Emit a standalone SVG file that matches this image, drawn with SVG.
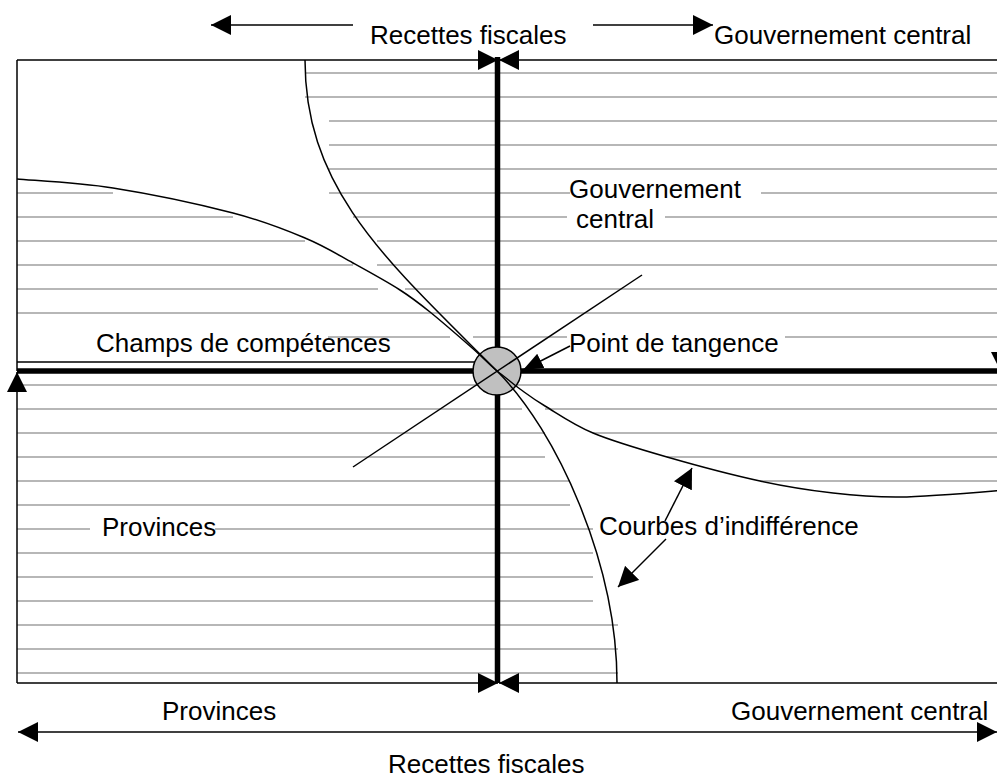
<svg xmlns="http://www.w3.org/2000/svg" width="997" height="780" viewBox="0 0 997 780">
<style>
.t{font-family:"Liberation Sans",Arial,sans-serif;font-size:26px;fill:#000}
.h{stroke:#a0a0a0;stroke-width:1.5;fill:none}
.k{stroke:#000;stroke-width:1.5;fill:none}
.K{stroke:#000;stroke-width:5.5;fill:none}
</style>
<defs>
<marker id="ah" viewBox="0 0 20 20" refX="20" refY="10" markerWidth="20" markerHeight="20" markerUnits="userSpaceOnUse" orient="auto-start-reverse"><path d="M0,0 L20,10 L0,20 z" fill="#000"/></marker>
<marker id="ahs" viewBox="0 0 20 16" refX="20" refY="8" markerWidth="20" markerHeight="16" markerUnits="userSpaceOnUse" orient="auto"><path d="M0,0 L20,8 L0,16 z" fill="#000"/></marker>
</defs>
<rect width="997" height="780" fill="#fff"/>
<g id="hatching" class="h">
<path d="M305,73H1000M305,97H1000M329,121H1000M329,145H1000M329,169H1000
M17,193H113M329,193H570M761,193H1000
M17,217H233M353,217H567M665,217H1000
M17,241H305M377,241H1000
M17,265H353M377,265H1000
M17,289H378M405,289H1000
M17,313H1000
M328,337H450M473,337H567M785,337H1000
M17,385H1000
M17,409H522M545,409H1000
M17,433H545M593,433H1000
M17,457H545M667,457H1000
M17,481H570M760,481H1000
M17,505H570
M17,529H90M215,529H593
M17,553H593M17,577H593M17,601H593
M17,625H618M17,649H618M17,673H618"/>
</g>
<g id="frame" class="k">
<line x1="17" y1="60" x2="498" y2="60" marker-end="url(#ah)"/>
<line x1="1005" y1="60" x2="499" y2="60" marker-end="url(#ah)"/>
<line x1="17" y1="683" x2="498" y2="683" marker-end="url(#ah)"/>
<line x1="1005" y1="683" x2="499" y2="683" marker-end="url(#ah)"/>
<line x1="17" y1="60" x2="17" y2="371"/>
<line x1="17" y1="683" x2="17" y2="372" marker-end="url(#ah)"/>
<line x1="1001" y1="60" x2="1001" y2="372" marker-end="url(#ah)"/>
<line x1="17" y1="362" x2="475" y2="362"/>
</g>
<g id="axes" class="K">
<line x1="17" y1="371" x2="1005" y2="371"/>
<line x1="497.5" y1="57" x2="497.5" y2="683"/>
</g>
<g id="tangent-point">
<circle cx="497" cy="371" r="24" fill="#c0c0c0" stroke="#000" stroke-width="1.5"/>
</g>
<g id="curves" class="k">
<path id="curve-a" d="M305,60 C305,190 387,261 497,371 C557,431 617,563 617,683"/>
<path id="curve-b" d="M17,179 C33,180.5 77,182.3 113,188 C149,193.7 201,204.7 233,213 C265,221.3 285,229.7 305,238 C325,246.3 337.2,254.3 353,263 C368.8,271.7 387.2,281.8 400,290 C412.8,298.2 418.2,302.5 430,312 C441.8,321.5 459.8,337.2 471,347 C479.2,354 488.8,364 497,371 C505,376.8 512,383.2 520,389 C528,394.8 532.8,398.7 545,406 C557.2,413.3 572.7,424.5 593,433 C613.3,441.5 639.2,449 667,457 C694.8,465 732.3,475 760,481 C787.7,487 809.7,490.3 833,493 C856.3,495.7 872.7,497.3 900,497 C927.3,496.7 980.8,492 1005,490"/>
<line id="tangent" x1="353" y1="467" x2="642" y2="275"/>
</g>
<g id="connectors" class="k">
<line x1="353" y1="25" x2="211" y2="25" marker-end="url(#ah)"/>
<line x1="593" y1="25" x2="713" y2="25" marker-end="url(#ah)"/>
<line x1="570" y1="346" x2="523" y2="370" marker-end="url(#ahs)"/>
<line x1="665" y1="521" x2="692" y2="468" marker-end="url(#ah)"/>
<line x1="666" y1="539" x2="618" y2="587" marker-end="url(#ah)"/>
<line x1="18" y1="732" x2="997" y2="732" marker-start="url(#ah)" marker-end="url(#ah)"/>
</g>
<g id="labels">
<text class="t" x="370" y="44">Recettes fiscales</text>
<text class="t" x="714" y="44">Gouvernement central</text>
<text class="t" x="569" y="198">Gouvernement</text>
<text class="t" x="576" y="228">central</text>
<text class="t" x="96" y="352">Champs de compétences</text>
<text class="t" x="569" y="352">Point de tangence</text>
<text class="t" x="102" y="536">Provinces</text>
<text class="t" x="599" y="535">Courbes d’indifférence</text>
<text class="t" x="162" y="720">Provinces</text>
<text class="t" x="731" y="720">Gouvernement central</text>
<text class="t" x="388" y="773">Recettes fiscales</text>
</g>
</svg>
